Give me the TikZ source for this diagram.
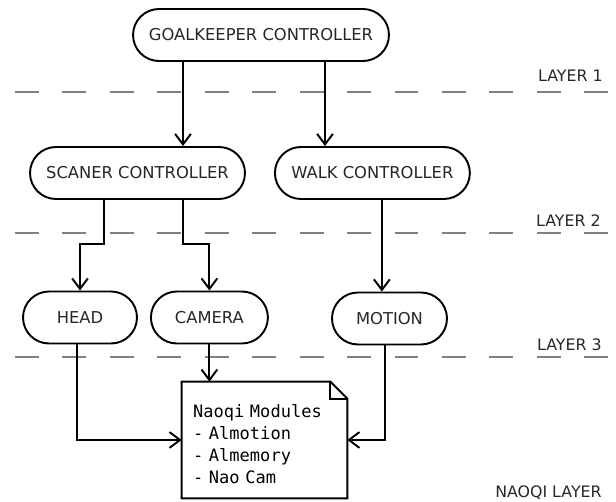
\documentclass[tikz,border=0pt]{standalone}
\usepackage{fontspec}
\setmainfont{DejaVu Sans}
\setmonofont{DejaVu Sans Mono}
\usetikzlibrary{arrows.meta,shapes.misc,positioning}

\tikzset{
  ctrl/.style={draw, rounded rectangle, line width=1.1pt, minimum height=1.04cm,
    inner sep=0pt, text=black!85, font=\fontsize{9.3}{11}\selectfont},
  flow/.style={line width=1.1pt, -{Straight Barb[length=6pt,width=9pt]}},
  layerline/.style={gray, line width=0.9pt, dash pattern=on 13.6pt off 13.4pt},
  layer/.style={anchor=east, inner sep=0pt, text=black!85, font=\fontsize{9}{11}\selectfont},
  modules/.style={minimum width=3.3cm, minimum height=2.32cm, inner xsep=0.22cm,
    text width=2.86cm, align=left, font=\ttfamily\fontsize{9.7}{12.6}\selectfont}
}

\begin{document}
\begin{tikzpicture}[x=0.02cm, y=-0.02cm]
  \useasboundingbox (0,0) rectangle (616,502);

  % layers
  \draw[layerline] (15,92) -- (616,92);
  \draw[layerline] (15,233) -- (616,233);
  \draw[layerline] (15,357) -- (616,357);
  \node[layer] (l1) at (603,76) {LAYER 1};
  \node[layer] (l2) at (601,221) {LAYER 2};
  \node[layer] (l3) at (602,345) {LAYER 3};
  \node[layer] (l4) at (602,493) {NAOQI LAYER};

  % controllers
  \node[ctrl, minimum width=5.12cm] (goal) at (261,35) {GOALKEEPER CONTROLLER};
  \node[ctrl, minimum width=4.3cm] (scan) at (137.5,173) {SCANER CONTROLLER};
  \node[ctrl, minimum width=3.9cm, right=0.56cm of scan] (walk) {WALK CONTROLLER};
  \node[ctrl, minimum width=2.28cm] (head) at (80,317.5) {HEAD};
  \node[ctrl, minimum width=2.34cm, right=0.24cm of head] (cam) {CAMERA};
  \node[ctrl, minimum width=2.3cm] (motion) at (389.5,318.5) {MOTION};

  % naoqi modules
  \node[modules] (naoqi) at (264.5,440)
    {\rule{0pt}{12pt}Naoqi Modules\\- Almotion\\- Almemory\\- Nao Cam};
  \draw[line width=1.1pt] (naoqi.south west) |- ([xshift=-0.34cm]naoqi.north east)
    -- ([yshift=-0.34cm]naoqi.north east) -- (naoqi.south east) -- cycle;
  \draw[line width=1.1pt] ([xshift=-0.34cm]naoqi.north east) |- ([yshift=-0.34cm]naoqi.north east);

  % connections
  \coordinate (g1) at ([xshift=-1.56cm]goal.south);
  \coordinate (g2) at ([xshift=1.28cm]goal.south);
  \coordinate (s1) at ([xshift=-0.67cm]scan.south);
  \coordinate (s2) at ([xshift=0.91cm]scan.south);
  \coordinate (w1) at ([xshift=0.19cm]walk.south);
  \coordinate (h1) at ([xshift=-0.06cm]head.south);
  \coordinate (m1) at ([xshift=-0.09cm]motion.south);

  \draw[flow] (g1) -- (g1 |- scan.north);
  \draw[flow] (g2) -- (g2 |- walk.north);
  \draw[flow] (s1) -- ++(0,-0.88cm) -| (head);
  \draw[flow] (s2) -- ++(0,-0.88cm) -| (cam);
  \draw[flow] (w1) -- (w1 |- motion.north);
  \draw[flow] (cam.south) -- (cam.south |- naoqi.north);
  \draw[flow] (h1) |- (naoqi.west);
  \draw[flow] (m1) |- (naoqi.east);
\end{tikzpicture}
\end{document}
